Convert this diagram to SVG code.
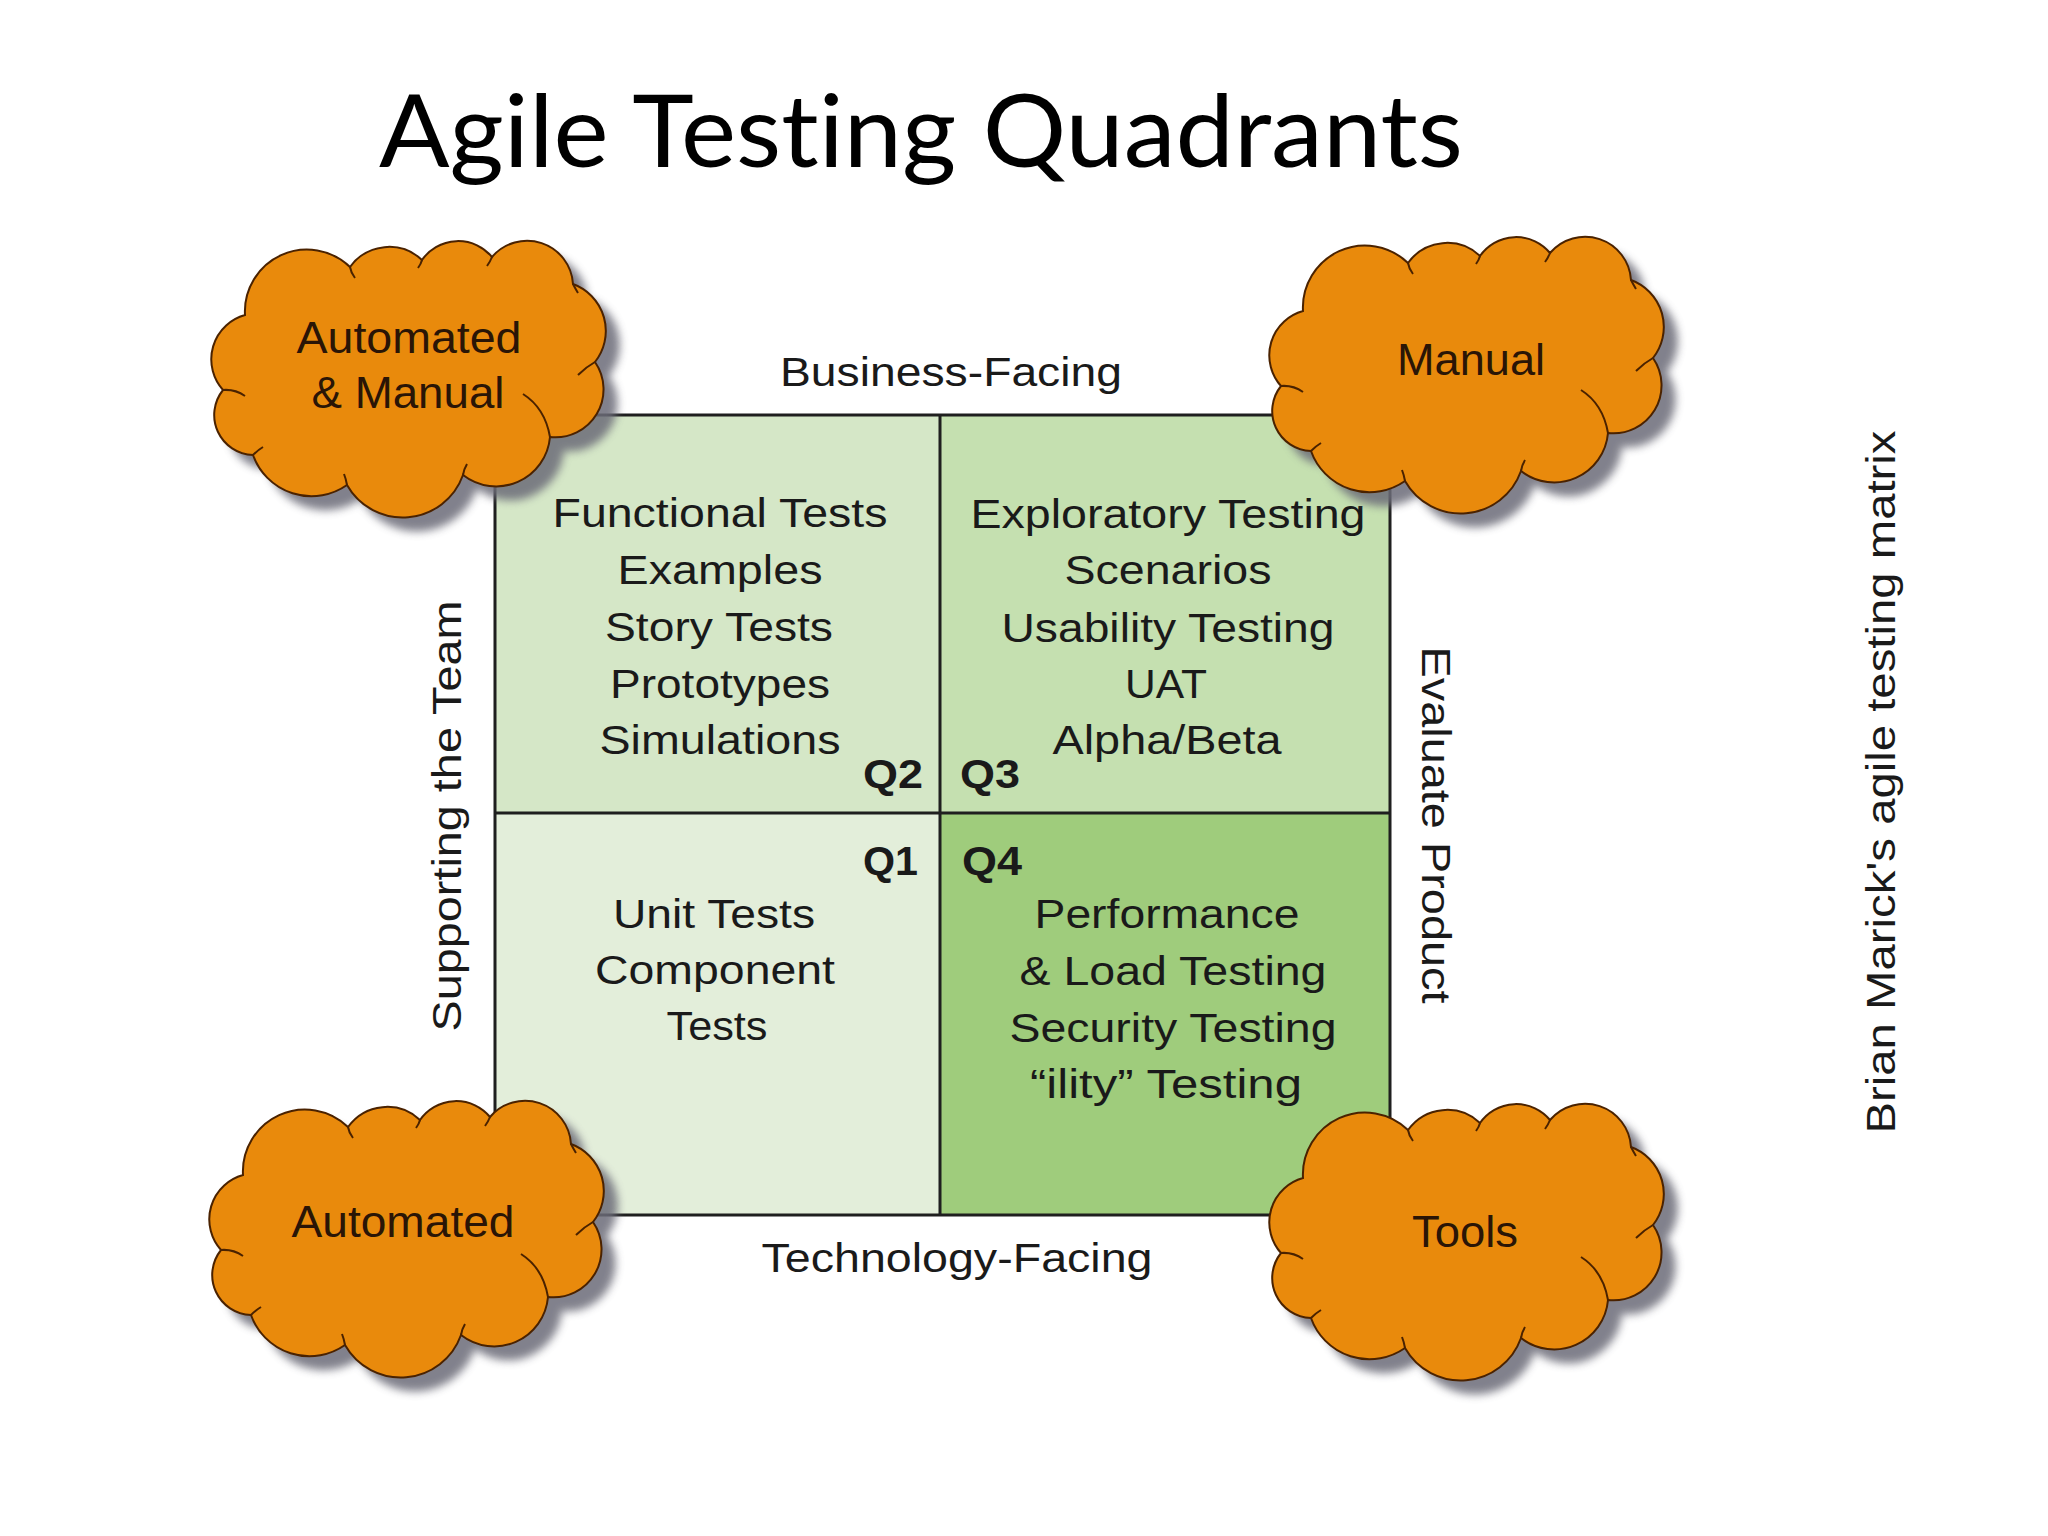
<svg xmlns="http://www.w3.org/2000/svg" xmlns:xlink="http://www.w3.org/1999/xlink" width="2048" height="1536" viewBox="0 0 2048 1536">
<style>
.t{font-family:"Liberation Sans",Arial,sans-serif;fill:#1a1a1a;font-size:40px}
.q{font-family:"Liberation Sans",Arial,sans-serif;fill:#1a1a1a;font-size:40px;font-weight:bold}
.c{font-family:"Liberation Sans",Arial,sans-serif;fill:#2a1506;font-size:44px;text-anchor:middle}
.m{text-anchor:middle}
.grid{fill:none;stroke:#1f1f1f;stroke-width:3}
.cloud{fill:#e98a0c;stroke:#4a2200;stroke-width:2}
.inner{fill:none;stroke:#4a2200;stroke-width:2}
.shadow{fill:#6c6c78;opacity:0.85}
</style>
<defs>
<filter id="blur" x="-10%" y="-10%" width="120%" height="120%"><feGaussianBlur stdDeviation="4"/></filter>
<path id="cloudShape" d="M40,80 A62,62 0 0 1 145,32 A48,48 0 0 1 217,25 A44,44 0 0 1 287,22 A46,46 0 0 1 368,49 A50,50 0 0 1 390,127 A48,48 0 0 1 345,202 A54,54 0 0 1 258,240 A64,64 0 0 1 142,250 A62,62 0 0 1 48,220 A40,40 0 0 1 18,155 A46,46 0 0 1 40,80 Z"/>
<path id="cloudInner" d="M18,155 Q30,154 40,161 M145,32 Q146,38 150,43 M217,25 Q216,29 213,33 M287,22 Q285,27 282,31 M368,49 Q370,53 373,58 M390,127 Q381,132 373,140 M345,202 Q340,173 318,159 M258,240 Q259,234 262,229 M142,250 Q141,244 139,239 M48,220 Q53,215 58,212"/>
</defs>
<rect width="2048" height="1536" fill="#ffffff"/>
<text x="379" y="167" font-family="Lato,'Open Sans',sans-serif" font-size="101" fill="#000" style="font-variant-ligatures:none" textLength="1084" lengthAdjust="spacingAndGlyphs">Agile Testing Quadrants</text>

<g id="q2">
<rect x="495" y="415" width="445" height="398" fill="#d5e7c7"/>
<text class="t m" x="720" y="527" textLength="335" lengthAdjust="spacingAndGlyphs">Functional Tests</text>
<text class="t m" x="720" y="584" textLength="205" lengthAdjust="spacingAndGlyphs">Examples</text>
<text class="t m" x="719" y="641" textLength="228" lengthAdjust="spacingAndGlyphs">Story Tests</text>
<text class="t m" x="720" y="698" textLength="220" lengthAdjust="spacingAndGlyphs">Prototypes</text>
<text class="t m" x="720" y="754" textLength="241" lengthAdjust="spacingAndGlyphs">Simulations</text>
<text class="q" x="863" y="788" textLength="60" lengthAdjust="spacingAndGlyphs">Q2</text>
</g>
<g id="q3">
<rect x="940" y="415" width="450" height="398" fill="#c5e0b0"/>
<text class="t m" x="1168" y="528" textLength="395" lengthAdjust="spacingAndGlyphs">Exploratory Testing</text>
<text class="t m" x="1168" y="584" textLength="207" lengthAdjust="spacingAndGlyphs">Scenarios</text>
<text class="t m" x="1168" y="642" textLength="333" lengthAdjust="spacingAndGlyphs">Usability Testing</text>
<text class="t m" x="1166" y="698" textLength="82" lengthAdjust="spacingAndGlyphs">UAT</text>
<text class="t m" x="1167" y="754" textLength="229" lengthAdjust="spacingAndGlyphs">Alpha/Beta</text>
<text class="q" x="960" y="788" textLength="60" lengthAdjust="spacingAndGlyphs">Q3</text>
</g>
<g id="q1">
<rect x="495" y="813" width="445" height="402" fill="#e3eeda"/>
<text class="q" x="863" y="875" textLength="55" lengthAdjust="spacingAndGlyphs">Q1</text>
<text class="t m" x="714" y="928" textLength="202" lengthAdjust="spacingAndGlyphs">Unit Tests</text>
<text class="t m" x="715" y="984" textLength="240" lengthAdjust="spacingAndGlyphs">Component</text>
<text class="t m" x="717" y="1040" textLength="101" lengthAdjust="spacingAndGlyphs">Tests</text>
</g>
<g id="q4">
<rect x="940" y="813" width="450" height="402" fill="#9fcc7c"/>
<text class="q" x="962" y="875" textLength="60" lengthAdjust="spacingAndGlyphs">Q4</text>
<text class="t m" x="1167" y="928" textLength="265" lengthAdjust="spacingAndGlyphs">Performance</text>
<text class="t m" x="1173" y="985" textLength="307" lengthAdjust="spacingAndGlyphs">&amp; Load Testing</text>
<text class="t m" x="1173" y="1042" textLength="327" lengthAdjust="spacingAndGlyphs">Security Testing</text>
<text class="t m" x="1166" y="1098" textLength="272" lengthAdjust="spacingAndGlyphs">“ility” Testing</text>
</g>
<g id="grid">
<rect class="grid" x="495" y="415" width="895" height="800"/>
<line class="grid" x1="940" y1="415" x2="940" y2="1215"/>
<line class="grid" x1="495" y1="813" x2="1390" y2="813"/>
</g>

<g id="axis-labels">
<text class="t m" x="951" y="386" textLength="342" lengthAdjust="spacingAndGlyphs">Business-Facing</text>
<text class="t m" x="957" y="1272" textLength="391" lengthAdjust="spacingAndGlyphs">Technology-Facing</text>
<text class="t m" transform="translate(461,816) rotate(-90)" textLength="431" lengthAdjust="spacingAndGlyphs">Supporting the Team</text>
<text class="t m" transform="translate(1422,825) rotate(90)" textLength="357" lengthAdjust="spacingAndGlyphs">Evaluate Product</text>
</g>

<g id="cloud-automated-manual" transform="translate(205,235)">
<use xlink:href="#cloudShape" href="#cloudShape" class="shadow" transform="translate(14,14)" filter="url(#blur)"/>
<use xlink:href="#cloudShape" href="#cloudShape" class="cloud"/>
<use xlink:href="#cloudInner" href="#cloudInner" class="inner"/>
<text class="c" x="204" y="118" textLength="225" lengthAdjust="spacingAndGlyphs">Automated</text>
<text class="c" x="203" y="173" textLength="193" lengthAdjust="spacingAndGlyphs">&amp; Manual</text>
</g>
<g id="cloud-manual" transform="translate(1263,231)">
<use xlink:href="#cloudShape" href="#cloudShape" class="shadow" transform="translate(14,14)" filter="url(#blur)"/>
<use xlink:href="#cloudShape" href="#cloudShape" class="cloud"/>
<use xlink:href="#cloudInner" href="#cloudInner" class="inner"/>
<text class="c" x="208" y="144" textLength="148" lengthAdjust="spacingAndGlyphs">Manual</text>
</g>
<g id="cloud-automated" transform="translate(203,1095)">
<use xlink:href="#cloudShape" href="#cloudShape" class="shadow" transform="translate(14,14)" filter="url(#blur)"/>
<use xlink:href="#cloudShape" href="#cloudShape" class="cloud"/>
<use xlink:href="#cloudInner" href="#cloudInner" class="inner"/>
<text class="c" x="200" y="142" textLength="223" lengthAdjust="spacingAndGlyphs">Automated</text>
</g>
<g id="cloud-tools" transform="translate(1263,1098)">
<use xlink:href="#cloudShape" href="#cloudShape" class="shadow" transform="translate(14,14)" filter="url(#blur)"/>
<use xlink:href="#cloudShape" href="#cloudShape" class="cloud"/>
<use xlink:href="#cloudInner" href="#cloudInner" class="inner"/>
<text class="c" x="202" y="149" textLength="106" lengthAdjust="spacingAndGlyphs">Tools</text>
</g>

<text class="t m" transform="translate(1895,782) rotate(-90)" textLength="703" lengthAdjust="spacingAndGlyphs">Brian Marick's agile testing matrix</text>
</svg>
